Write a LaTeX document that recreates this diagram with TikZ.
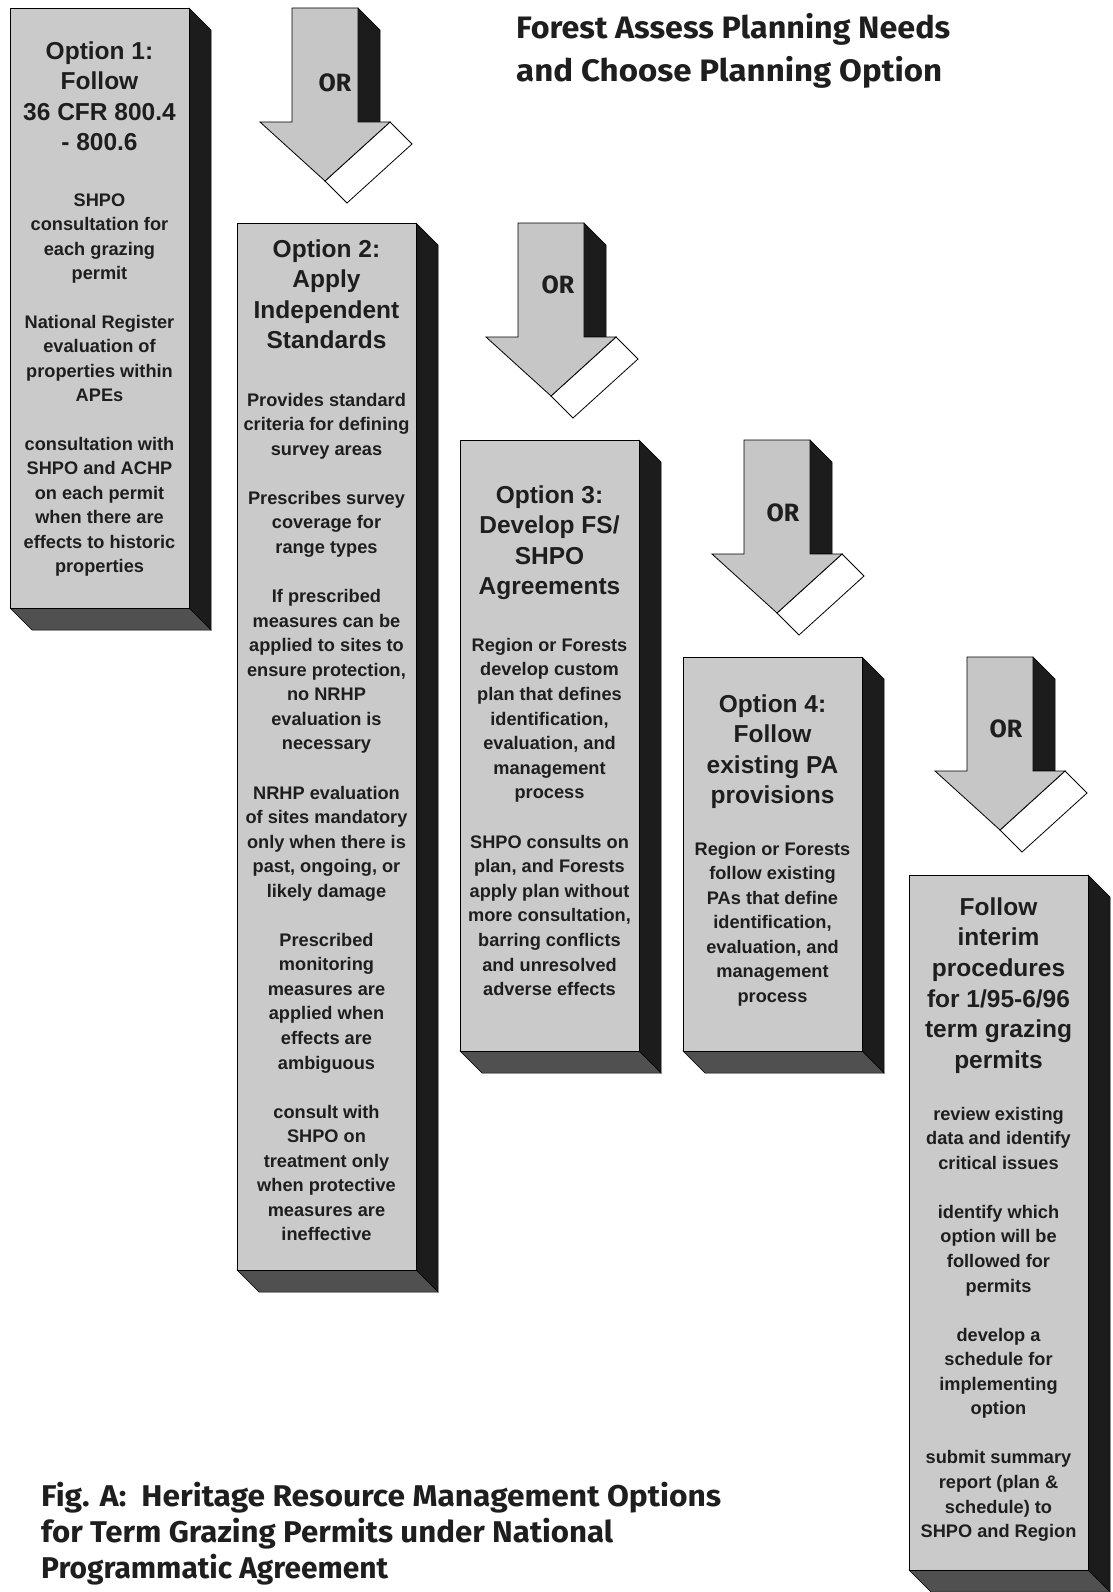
\documentclass[tikz,border=0pt]{standalone}
\usepackage{graphicx}
\usepackage{fontspec}
\setmainfont{Liberation Sans}
\newfontfamily\gillfont{Fira Sans}
\definecolor{facegray}{HTML}{CACACA}
\definecolor{sidedark}{HTML}{1C1C1C}
\definecolor{bottomgray}{HTML}{505050}
\definecolor{arrowgray}{HTML}{C6C6C6}
\definecolor{inkgray}{HTML}{1E1E1E}

\tikzset{
  frontface/.style={fill=facegray, draw=black, line width=0.8pt},
  sideface/.style={fill=sidedark, draw=black, line width=0.5pt},
  bottomface/.style={fill=bottomgray, draw=black, line width=0.5pt},
  arrowfront/.style={fill=arrowgray, draw=black, line width=0.8pt},
  arrowlight/.style={fill=white, draw=black, line width=0.8pt},
  headtxt/.style={font=\fontsize{24.5}{30.4}\selectfont\bfseries, align=center,
    anchor=north, inner sep=0pt, text=inkgray},
  bodytxt/.style={font=\fontsize{18.2}{24.55}\selectfont\bfseries, align=center,
    anchor=north, inner sep=0pt, text=inkgray},
  ortxt/.style={font=\gillfont\bfseries\fontsize{25}{25}\selectfont, inner sep=0pt, text=inkgray},
  titletxt/.style={font=\gillfont\bfseries\fontsize{31}{43}\selectfont, align=left,
    anchor=north west, inner sep=0pt, text=inkgray},
  captiontxt/.style={font=\gillfont\bfseries\fontsize{30}{36}\selectfont, align=left,
    anchor=north west, inner sep=0pt, text=inkgray},
}

% x1 y1 x2 y2 of the front face (pixel coordinates, y downwards)
\newcommand\threedbox[4]{%
  \filldraw[sideface] (#3,#2) -- ({#3+22},{#2+22}) -- ({#3+22},{#4+22}) -- (#3,#4) -- cycle;
  \filldraw[bottomface] (#1,#4) -- ({#1+22},{#4+22}) -- ({#3+22},{#4+22}) -- (#3,#4) -- cycle;
  \draw[frontface] (#1,#2) rectangle (#3,#4);
}
% shaft left x, top y
\newcommand\orarrow[2]{%
  \filldraw[sideface] ({#1+66},#2) -- ({#1+88},{#2+22}) -- ({#1+88},{#2+114}) -- ({#1+66},{#2+114}) -- cycle;
  \draw[arrowlight] ({#1+98},{#2+114}) -- ({#1+120},{#2+136}) -- ({#1+55},{#2+195}) -- ({#1+33},{#2+173}) -- cycle;
  \draw[arrowfront] (#1,#2) -- ({#1+66},#2) -- ({#1+66},{#2+114}) -- ({#1+98},{#2+114})
    -- ({#1+33},{#2+173}) -- ({#1-32},{#2+114}) -- (#1,{#2+114}) -- cycle;
}
\newcommand\fitline[2]{\resizebox{#1pt}{\height}{#2}}

\begin{document}
\begin{tikzpicture}[x=1pt,y=-1pt]
\useasboundingbox (0,0) rectangle (1113,1592);
\fill[white] (0,0) rectangle (1113,1592);

% boxes
\threedbox{10}{8}{189}{608}
\threedbox{237}{223}{416}{1270}
\threedbox{460}{440}{639}{1051}
\threedbox{683}{657}{862}{1051}
\threedbox{909}{875}{1088}{1570}

% arrows
\orarrow{292}{8}
\orarrow{518}{223}
\orarrow{744}{440}
\orarrow{967}{657}

\node[ortxt] (or1) at (335,83) {OR};
\node[ortxt] (or2) at (558,285) {OR};
\node[ortxt] (or3) at (783,513) {OR};
\node[ortxt] (or4) at (1006,729) {OR};

% box 1
\node[headtxt, font=\fontsize{24.5}{30.5}\selectfont\bfseries] (h1) at (99.5,34.5) {\rule{0pt}{1em}Option 1:\\Follow\\36 CFR 800.4\\- 800.6};
\node[bodytxt, font=\fontsize{18.2}{24.4}\selectfont\bfseries] (t1) at (99.5,188)
 {\rule{0pt}{1em}SHPO\\consultation for\\each grazing\\permit\\[24.4pt]National Register\\evaluation of\\properties within\\APEs\\[24.4pt]consultation with\\SHPO and ACHP\\on each permit\\when there are\\effects to historic\\properties};

% box 2
\node[headtxt] (h2) at (326.5,232.5) {\rule{0pt}{1em}Option 2:\\Apply\\Independent\\Standards};
\node[bodytxt] (t2) at (326.5,387.8)
 {\rule{0pt}{1em}Provides standard\\criteria for defining\\survey areas\\[24.55pt]Prescribes survey\\coverage for\\range types\\[24.55pt]If prescribed\\measures can be\\applied to sites to\\ensure protection,\\no NRHP\\evaluation is\\necessary\\[24.55pt]NRHP evaluation\\of sites mandatory\\only when there is\\past, ongoing, or\\likely damage\\[24.55pt]Prescribed\\monitoring\\measures are\\applied when\\effects are\\ambiguous\\[24.55pt]consult with\\SHPO on\\treatment only\\when protective\\measures are\\ineffective};

% box 3
\node[headtxt] (h3) at (549.5,478.5) {\rule{0pt}{1em}Option 3:\\Develop FS/\\SHPO\\Agreements};
\node[bodytxt, font=\fontsize{18.2}{24.6}\selectfont\bfseries] (t3) at (549.5,632.8)
 {\rule{0pt}{1em}Region or Forests\\develop custom\\plan that defines\\identification,\\evaluation, and\\management\\process\\[24.6pt]SHPO consults on\\plan, and Forests\\apply plan without\\more consultation,\\barring conflicts\\and unresolved\\adverse effects};

% box 4
\node[headtxt] (h4) at (772.5,687.5) {\rule{0pt}{1em}Option 4:\\Follow\\existing PA\\provisions};
\node[bodytxt] (t4) at (772.5,836.8)
 {\rule{0pt}{1em}Region or Forests\\follow existing\\PAs that define\\identification,\\evaluation, and\\management\\process};

% box 5
\node[headtxt, font=\fontsize{24.5}{30.6}\selectfont\bfseries] (h5) at (998.5,890.5) {\rule{0pt}{1em}Follow\\interim\\procedures\\for 1/95-6/96\\term grazing\\permits};
\node[bodytxt] (t5) at (998.5,1101.8)
 {\rule{0pt}{1em}review existing\\data and identify\\critical issues\\[24.55pt]identify which\\option will be\\followed for\\permits\\[24.55pt]develop a\\schedule for\\implementing\\option\\[24.55pt]submit summary\\report (plan \&\\schedule) to\\SHPO and Region};

% title and caption
\node[titletxt] (title) at (516,7) {\rule{0pt}{1em}\fitline{434}{Forest Assess Planning Needs}\\\fitline{426}{and Choose Planning Option}};
\node[captiontxt] (caption) at (41,1476) {\rule{0pt}{1em}\fitline{680}{Fig. A:\ \ Heritage Resource Management Options}\\\fitline{572}{for Term Grazing Permits under National}\\\fitline{347}{Programmatic Agreement}};
\end{tikzpicture}
\end{document}
